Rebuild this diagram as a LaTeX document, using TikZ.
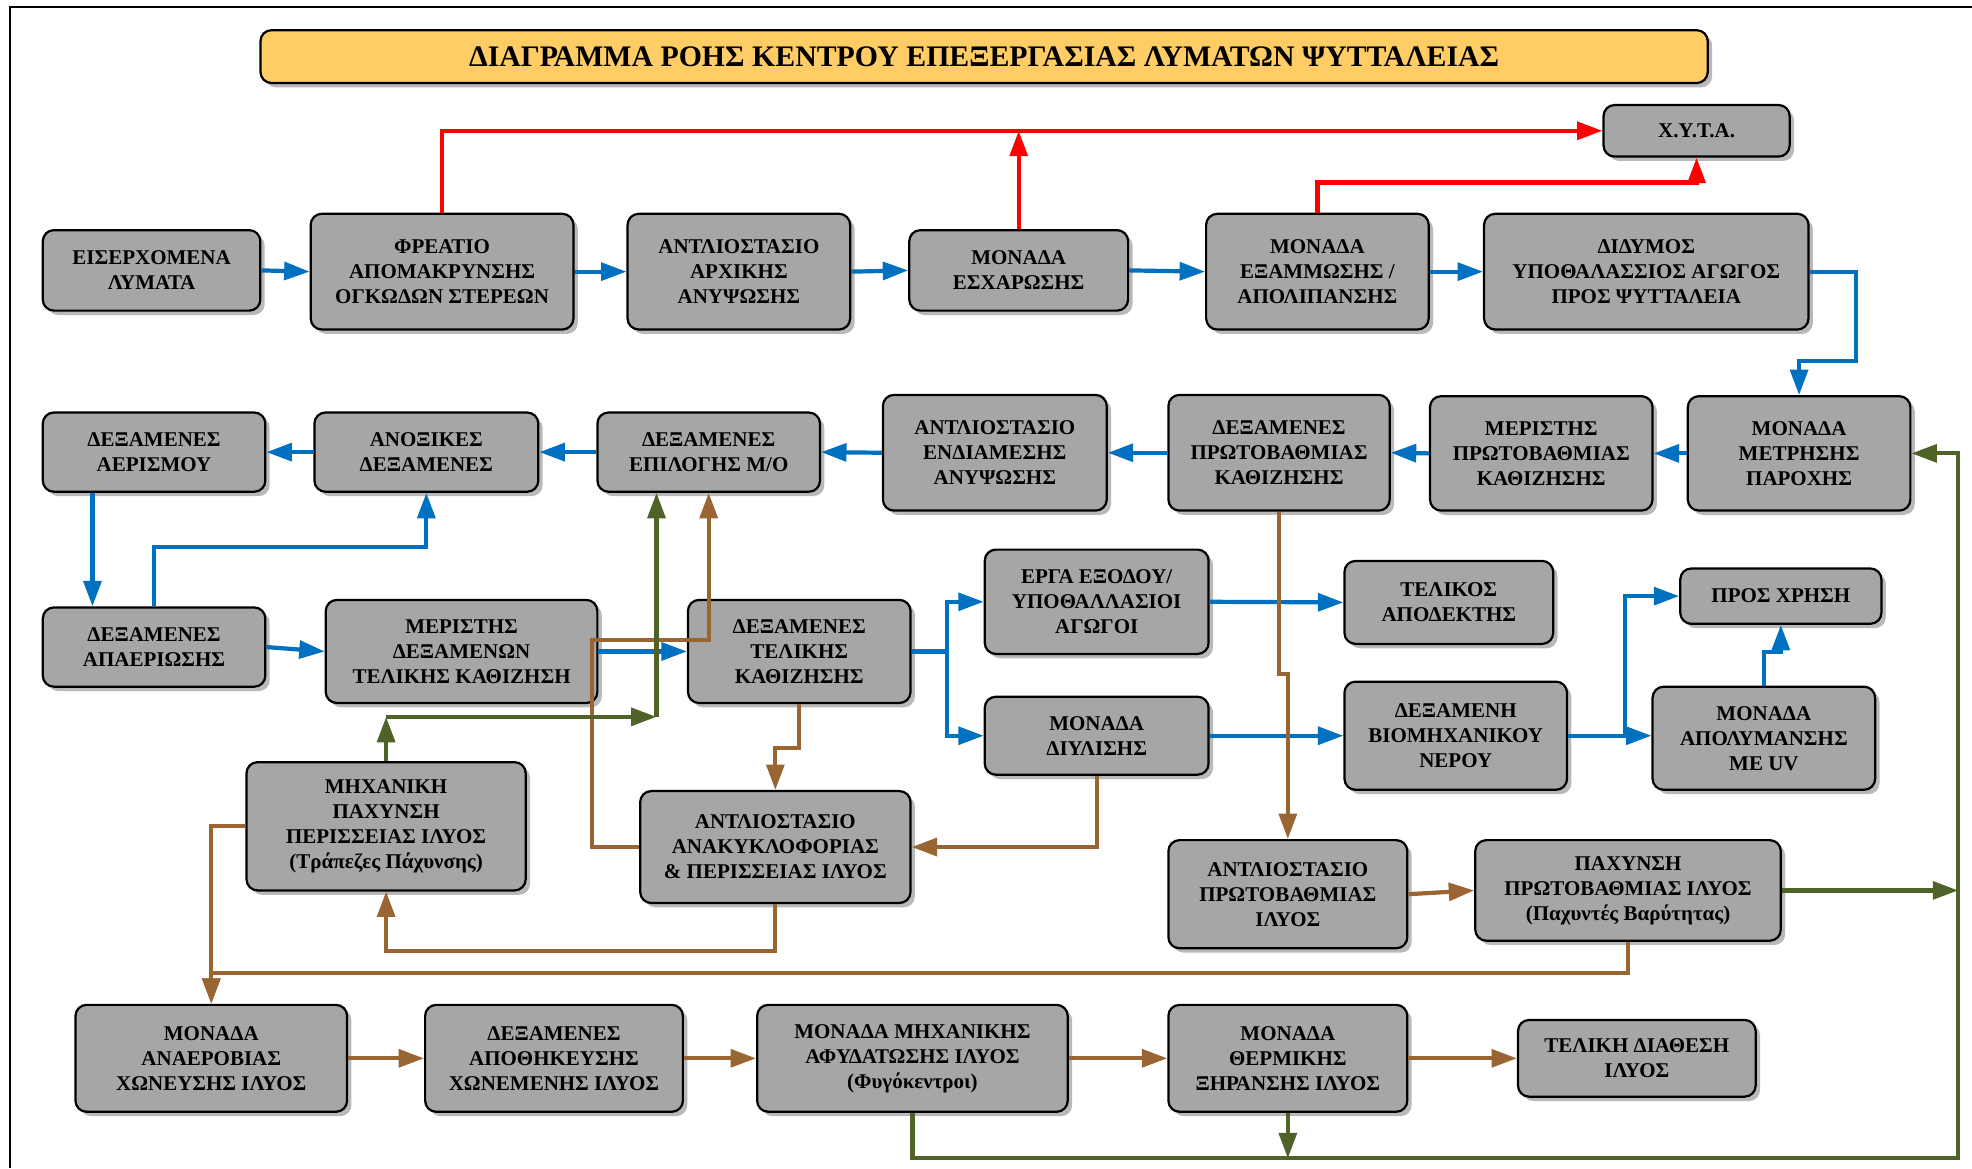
\documentclass[tikz,border=0pt]{standalone}
\usepackage{fontspec}
\setmainfont{Liberation Serif}
\usepackage{tikz}
\usetikzlibrary{arrows.meta,shadows}

\definecolor{boxgray}{HTML}{A6A6A6}
\definecolor{titlefill}{HTML}{FFCC66}
\definecolor{flowblue}{HTML}{0070C0}
\definecolor{flowred}{HTML}{FF0000}
\definecolor{flowbrown}{HTML}{996633}
\definecolor{flowgreen}{HTML}{4F6228}

\begin{document}
\begin{tikzpicture}[x=0.02cm,y=-0.02cm,
  blk/.style={draw,line width=1pt,rounded corners=5pt,fill=boxgray,align=center,inner sep=0pt,
    font=\fontsize{9.5}{11.3}\selectfont\bfseries,
    drop shadow={shadow xshift=0.07cm,shadow yshift=-0.07cm,fill=black!55}},
  ttl/.style={blk,fill=titlefill,font=\fontsize{13.5}{15}\selectfont\bfseries},
  bl/.style={flowblue,line width=1.9pt},
  rd/.style={flowred,line width=1.9pt},
  br/.style={flowbrown,line width=1.9pt},
  gr/.style={flowgreen,line width=1.9pt},
  >={Triangle[length=11.5pt,width=8pt]}]
\useasboundingbox (0,0) rectangle (1568,929);
\draw[line width=0.9pt] (1568,5.5) -- (8,5.5) -- (8,929);

\node (title) at (782.5,45) [ttl,minimum width=23.02cm,minimum height=0.84cm] {ΔΙΑΓΡΑΜΜΑ ΡΟΗΣ ΚΕΝΤΡΟΥ ΕΠΕΞΕΡΓΑΣΙΑΣ ΛΥΜΑΤΩΝ ΨΥΤΤΑΛΕΙΑΣ};

% first row
\node (in) at (120.5,215) [blk,minimum width=3.46cm,minimum height=1.28cm] {ΕΙΣΕΡΧΟΜΕΝΑ\\ΛΥΜΑΤΑ};
\node (frea) at (351.5,216) [blk,minimum width=4.18cm,minimum height=1.84cm] {ΦΡΕΑΤΙΟ\\ΑΠΟΜΑΚΡΥΝΣΗΣ\\ΟΓΚΩΔΩΝ ΣΤΕΡΕΩΝ};
\node (arx) at (587.5,216) [blk,minimum width=3.54cm,minimum height=1.84cm] {ΑΝΤΛΙΟΣΤΑΣΙΟ\\ΑΡΧΙΚΗΣ\\ΑΝΥΨΩΣΗΣ};
\node (esx) at (810,215) [blk,minimum width=3.48cm,minimum height=1.28cm] {ΜΟΝΑΔΑ\\ΕΣΧΑΡΩΣΗΣ};
\node (exam) at (1047.5,216) [blk,minimum width=3.54cm,minimum height=1.84cm] {ΜΟΝΑΔΑ\\ΕΞΑΜΜΩΣΗΣ /\\ΑΠΟΛΙΠΑΝΣΗΣ};
\node (did) at (1309,216) [blk,minimum width=5.16cm,minimum height=1.84cm] {ΔΙΔΥΜΟΣ\\ΥΠΟΘΑΛΑΣΣΙΟΣ ΑΓΩΓΟΣ\\ΠΡΟΣ ΨΥΤΤΑΛΕΙΑ};
\node (xyta) at (1349,104) [blk,minimum width=2.96cm,minimum height=0.82cm] {Χ.Υ.Τ.Α.};

% second row
\node (aer) at (122.5,359.5) [blk,minimum width=3.54cm,minimum height=1.26cm] {ΔΕΞΑΜΕΝΕΣ\\ΑΕΡΙΣΜΟΥ};
\node (anox) at (339,359.5) [blk,minimum width=3.56cm,minimum height=1.26cm] {ΑΝΟΞΙΚΕΣ\\ΔΕΞΑΜΕΝΕΣ};
\node (epil) at (563.5,359.5) [blk,minimum width=3.54cm,minimum height=1.26cm] {ΔΕΞΑΜΕΝΕΣ\\ΕΠΙΛΟΓΗΣ Μ/Ο};
\node (end) at (791,360) [blk,minimum width=3.56cm,minimum height=1.84cm] {ΑΝΤΛΙΟΣΤΑΣΙΟ\\ΕΝΔΙΑΜΕΣΗΣ\\ΑΝΥΨΩΣΗΣ};
\node (prw) at (1017,360) [blk,minimum width=3.52cm,minimum height=1.84cm] {ΔΕΞΑΜΕΝΕΣ\\ΠΡΩΤΟΒΑΘΜΙΑΣ\\ΚΑΘΙΖΗΣΗΣ};
\node (mer1) at (1225.5,360.5) [blk,minimum width=3.54cm,minimum height=1.82cm] {ΜΕΡΙΣΤΗΣ\\ΠΡΩΤΟΒΑΘΜΙΑΣ\\ΚΑΘΙΖΗΣΗΣ};
\node (metr) at (1430.5,360.5) [blk,minimum width=3.54cm,minimum height=1.82cm] {ΜΟΝΑΔΑ\\ΜΕΤΡΗΣΗΣ\\ΠΑΡΟΧΗΣ};

% third row
\node (apa) at (122.5,514.5) [blk,minimum width=3.54cm,minimum height=1.26cm] {ΔΕΞΑΜΕΝΕΣ\\ΑΠΑΕΡΙΩΣΗΣ};
\node (mer2) at (367,518) [blk,minimum width=4.32cm,minimum height=1.64cm] {ΜΕΡΙΣΤΗΣ\\ΔΕΞΑΜΕΝΩΝ\\ΤΕΛΙΚΗΣ ΚΑΘΙΖΗΣΗ};
\node (tel) at (635.5,518) [blk,minimum width=3.54cm,minimum height=1.64cm] {ΔΕΞΑΜΕΝΕΣ\\ΤΕΛΙΚΗΣ\\ΚΑΘΙΖΗΣΗΣ};
\node (erga) at (872,478.5) [blk,minimum width=3.56cm,minimum height=1.66cm] {ΕΡΓΑ ΕΞΟΔΟΥ/\\ΥΠΟΘΑΛΛΑΣΙΟΙ\\ΑΓΩΓΟΙ};
\node (apod) at (1152,479) [blk,minimum width=3.32cm,minimum height=1.32cm] {ΤΕΛΙΚΟΣ\\ΑΠΟΔΕΚΤΗΣ};
\node (xrhsh) at (1416,474) [blk,minimum width=3.2cm,minimum height=0.88cm] {ΠΡΟΣ ΧΡΗΣΗ};
\node (diyl) at (872,585) [blk,minimum width=3.56cm,minimum height=1.24cm] {ΜΟΝΑΔΑ\\ΔΙΥΛΙΣΗΣ};
\node (biom) at (1157.5,585) [blk,minimum width=3.54cm,minimum height=1.72cm] {ΔΕΞΑΜΕΝΗ\\ΒΙΟΜΗΧΑΝΙΚΟΥ\\ΝΕΡΟΥ};
\node (uv) at (1402.5,587) [blk,minimum width=3.54cm,minimum height=1.64cm] {ΜΟΝΑΔΑ\\ΑΠΟΛΥΜΑΝΣΗΣ\\ΜΕ UV};

% fourth row
\node (mpax) at (307,657) [blk,minimum width=4.44cm,minimum height=2.04cm] {ΜΗΧΑΝΙΚΗ\\ΠΑΧΥΝΣΗ\\ΠΕΡΙΣΣΕΙΑΣ ΙΛΥΟΣ\\(Τράπεζες Πάχυνσης)};
\node (anak) at (616.5,673.5) [blk,minimum width=4.3cm,minimum height=1.78cm] {ΑΝΤΛΙΟΣΤΑΣΙΟ\\ΑΝΑΚΥΚΛΟΦΟΡΙΑΣ\\\& ΠΕΡΙΣΣΕΙΑΣ ΙΛΥΟΣ};
\node (antp) at (1024,711) [blk,minimum width=3.8cm,minimum height=1.72cm] {ΑΝΤΛΙΟΣΤΑΣΙΟ\\ΠΡΩΤΟΒΑΘΜΙΑΣ\\ΙΛΥΟΣ};
\node (paxp) at (1294.5,708) [blk,minimum width=4.86cm,minimum height=1.6cm] {ΠΑΧΥΝΣΗ\\ΠΡΩΤΟΒΑΘΜΙΑΣ ΙΛΥΟΣ\\(Παχυντές Βαρύτητας)};

% fifth row
\node (anae) at (168,841.5) [blk,minimum width=4.32cm,minimum height=1.7cm] {ΜΟΝΑΔΑ\\ΑΝΑΕΡΟΒΙΑΣ\\ΧΩΝΕΥΣΗΣ ΙΛΥΟΣ};
\node (apoth) at (440.5,841.5) [blk,minimum width=4.1cm,minimum height=1.7cm] {ΔΕΞΑΜΕΝΕΣ\\ΑΠΟΘΗΚΕΥΣΗΣ\\ΧΩΝΕΜΕΝΗΣ ΙΛΥΟΣ};
\node (afyd) at (725.5,841.5) [blk,minimum width=4.94cm,minimum height=1.7cm] {ΜΟΝΑΔΑ ΜΗΧΑΝΙΚΗΣ\\ΑΦΥΔΑΤΩΣΗΣ ΙΛΥΟΣ\\(Φυγόκεντροι)};
\node (therm) at (1024,841.5) [blk,minimum width=3.8cm,minimum height=1.7cm] {ΜΟΝΑΔΑ\\ΘΕΡΜΙΚΗΣ\\ΞΗΡΑΝΣΗΣ ΙΛΥΟΣ};
\node (diath) at (1301.5,841.5) [blk,minimum width=3.78cm,minimum height=1.22cm] {ΤΕΛΙΚΗ ΔΙΑΘΕΣΗ\\ΙΛΥΟΣ};

\coordinate (gc) at (1557,921);
\coordinate (gk) at (522,570);

% water line
\draw[bl,->] (in.east) -- (frea.west);
\draw[bl,->] (frea.east) -- (arx.west);
\draw[bl,->] (arx.east) -- (esx.west);
\draw[bl,->] (esx.east) -- (exam.west);
\draw[bl,->] (exam.east) -- (did.west);
\draw[bl,->] (did.east) -| (1476,287) -| (metr.north);
\draw[bl,->] (metr.west) -- (mer1.east);
\draw[bl,->] (mer1.west) -- (prw.east);
\draw[bl,->] (prw.west) -- (end.east);
\draw[bl,->] (end.west) -- (epil.east);
\draw[bl,->] (epil.west) -- (anox.east);
\draw[bl,->] (anox.west) -- (aer.east);
\draw[bl,->] ([xshift=-0.98cm]aer.south) -- ([xshift=-0.98cm]apa.north);
\draw[bl,->] (apa.north) -- ++(0,-47) -| (anox.south);
\draw[bl,->] (apa.east) -- (mer2.west);
\draw[bl,->] (mer2.east) -- (tel.west);
\draw[bl,->] (tel.east) -- ++(28,0) |- (erga.west);
\draw[bl,->] (tel.east) -- ++(28,0) |- (diyl.west);
\draw[bl,->] (erga.east) -- (apod.west);
\draw[bl,->] (diyl.east) -- (biom.west);
\draw[bl,->] (biom.east) -- (biom.east -| uv.west);
\draw[bl,->] (biom.east) -- ++(45,0) |- (xrhsh.west);
\draw[bl,->] (uv.north) -- ++(0,-27) -| (xrhsh.south);

% screenings
\draw[rd,->] (frea.north) |- (xyta.west);
\draw[rd,->] (esx.north) -- (esx.north |- xyta.west);
\draw[rd,->] (exam.north) -- ++(0,-24) -| (xyta.south);

% sludge
\draw[br,->] (prw.south) -- ++(0,129) -| (antp.north);
\draw[br,->] (antp.east) -- (paxp.west);
\draw[br,->] (paxp.south) -- ++(0,25) -| (anae.north);
\draw[br,->] (mpax.west) -| (anae.north);
\draw[br,->] (anak.south) -- ++(0,37) -| (mpax.south);
\draw[br,->] (diyl.south) |- (anak.east);
\draw[br,->] (tel.south) -- ++(0,35) -| (anak.north);
\draw[br,->] (anak.west) -| (471,509) -| (epil.south);
\draw[br,->] (anae.east) -- (apoth.west);
\draw[br,->] (apoth.east) -- (afyd.west);
\draw[br,->] (afyd.east) -- (therm.west);
\draw[br,->] (therm.east) -- (diath.west);

% returns
\draw[gr,->] (afyd.south) |- (gc) |- (metr.east);
\draw[gr,->] (paxp.east) -- (paxp.east -| gc);
\draw[gr,->] (therm.south) -- (therm.south |- gc);
\draw[gr,->] (mpax.north) -- (mpax.north |- gk);
\draw[gr,->] (mpax.north |- gk) -- (gk);
\draw[gr,->] (gk) -- (gk |- epil.south);
\end{tikzpicture}
\end{document}
